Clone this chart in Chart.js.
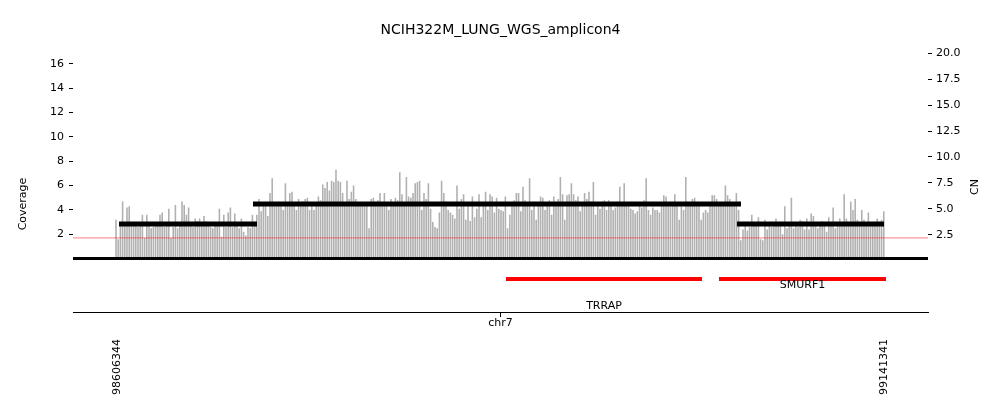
<!DOCTYPE html>
<html><head><meta charset="utf-8">
<script src="https://cdn.jsdelivr.net/npm/chart.js@4.4.1/dist/chart.umd.min.js"></script>
<style>html,body{margin:0;padding:0;background:#fff}canvas{display:block}</style>
</head><body>
<canvas id="c" width="1000" height="416"></canvas>
<script>
// ---------- data ----------
const chartTitle = 'NCIH322M_LUNG_WGS_amplicon4';
const chromName = 'chr7';
const xRange = [98575654, 99172031];
const xTickValues = [98606344, 99141341];
const coverageTicks = [2, 4, 6, 8, 10, 12, 14, 16];
const cnTicks = [2.5, 5, 7.5, 10, 12.5, 15, 17.5, 20];
const coverageRange = [0, 17.56];
const cnRange = [0.23, 20.77];
const covBinStart = 98605647;
const covBinSize = 1534.5;
const coverage = [
  3.2,1.6,3.0,4.7,2.8,4.2,4.3,3.0,2.7,2.9,
  2.6,2.8,3.6,1.7,3.6,2.7,2.5,2.6,2.9,2.7,
  3.6,3.8,2.6,3.0,4.1,1.7,2.6,4.4,2.5,2.7,
  4.7,4.4,3.6,4.2,2.7,2.6,3.3,3.1,3.3,2.9,
  3.5,3.1,2.8,2.6,2.5,2.9,2.7,4.1,1.8,3.6,
  2.6,3.8,4.2,2.6,3.7,2.7,2.5,
  3.3,2.2,1.9,2.6,2.5,3.6,2.9,3.6,4.9,3.9,
  4.6,4.3,3.5,5.4,6.6,4.3,4.5,4.7,4.3,4.0,
  6.2,4.5,5.4,5.5,4.5,4.0,4.9,4.5,4.7,4.9,
  5.0,4.0,4.5,4.0,4.6,5.1,4.8,6.1,5.8,6.3,
  5.6,6.4,6.3,7.3,6.4,6.3,5.4,4.6,6.4,4.9,
  5.5,6.0,4.9,4.6,4.3,4.5,4.4,4.6,2.5,
  4.9,5.0,4.7,4.8,5.4,4.4,5.4,4.4,4.0,4.9,
  4.6,5.0,4.8,7.1,5.3,4.6,6.7,5.1,5.0,5.4,
  6.2,6.3,6.4,4.0,5.4,4.9,6.2,4.1,3.0,2.6,
  2.5,3.8,6.4,5.4,4.7,4.0,3.8,3.6,3.3,6.0,
  4.1,4.9,5.3,3.2,4.5,3.1,5.1,3.4,4.1,5.3,
  3.4,4.5,5.5,4.0,5.3,5.1,3.8,5.0,4.1,
  4.0,3.9,5.1,2.5,3.6,4.7,4.8,5.4,5.4,3.9,
  5.9,4.8,4.5,6.6,4.0,4.7,3.2,4.5,5.1,5.0,
  4.0,4.4,4.8,3.6,5.1,4.3,4.9,6.7,5.3,3.2,
  5.2,5.3,6.2,5.3,4.8,5.1,3.9,4.5,5.4,4.9,
  5.5,4.7,6.3,3.6,4.5,4.1,4.7,4.8,4.0,4.8,
  4.4,4.0,4.2,4.7,5.9,4.4,6.2,4.4,4.4,
  4.1,4.0,3.7,3.9,4.6,4.2,4.8,6.6,4.0,3.6,
  4.2,4.0,4.0,3.8,4.6,5.2,5.1,4.5,4.3,4.6,
  5.3,4.4,3.2,4.3,4.0,6.7,4.7,4.6,4.9,5.0,
  4.5,4.4,3.2,3.8,4.0,3.8,4.5,5.2,5.2,4.9,
  4.6,4.6,4.6,6.0,5.2,4.9,4.6,4.3,5.4,4.0,
  1.5,2.4,2.7,2.3,2.6,3.6,2.7,2.8,3.4,
  1.6,1.5,3.2,2.4,2.7,2.6,2.7,3.3,2.7,2.8,
  2.0,4.3,2.5,2.9,5.0,2.5,2.7,2.6,3.2,3.1,
  2.4,3.3,2.4,3.7,3.5,2.7,2.5,2.9,3.1,2.9,
  2.2,3.4,2.7,4.2,2.5,2.9,3.3,2.7,5.3,3.3,
  2.7,4.7,4.0,4.9,3.2,2.7,4.0,3.2,2.8,3.8,
  2.7,2.7,3.0,3.3,2.7,3.2,3.9
];
const cnStarts = [98607739, 98701204, 99038782];
const cnEnds   = [98703994, 99041572, 99141341];
const cnValues = [3.56, 5.48, 3.56];
const baselineCoverage = 1.7;
const geneNames  = ['TRRAP', 'SMURF1'];
const geneStarts = [98877671, 99026239];
const geneEnds   = [99014381, 99142722];

// ---------- styling (not data) ----------
const FONT = "'DejaVu Sans'";
const geneLineLevel = 0.617;
const geneLabelLevels = [0.112, 0.505];

const datasets = [];
cnValues.forEach((v, i) => {
  datasets.push({
    type: 'line', yAxisID: 'y2', order: 0,
    data: [{x: cnStarts[i], y: v}, {x: cnEnds[i], y: v}],
    borderColor: '#000', borderWidth: 5, pointRadius: 0, borderCapStyle: 'butt', clip: false
  });
});
geneNames.forEach((g, i) => {
  datasets.push({
    type: 'line', yAxisID: 'yg', order: 0,
    data: [{x: geneStarts[i], y: geneLineLevel}, {x: geneEnds[i], y: geneLineLevel}],
    borderColor: '#ff0000', borderWidth: 4, pointRadius: 0, borderCapStyle: 'butt', clip: false
  });
});
datasets.push({
  type: 'line', yAxisID: 'y', order: 1,
  data: [{x: xRange[0], y: 0}, {x: xRange[1], y: 0}],
  borderColor: '#000', borderWidth: 3, pointRadius: 0, clip: false
});
datasets.push({
  type: 'line', yAxisID: 'y', order: 2,
  data: [{x: xRange[0], y: baselineCoverage}, {x: xRange[1], y: baselineCoverage}],
  borderColor: 'rgba(255,0,0,0.5)', borderWidth: 1, pointRadius: 0
});
datasets.push({
  type: 'bar', yAxisID: 'y', xAxisID: 'x', order: 3,
  data: coverage.map((v, i) => ({x: covBinStart + i * covBinSize, y: v})),
  backgroundColor: '#b0b0b0', borderWidth: 0,
  barPercentage: 0.72, categoryPercentage: 1.0
});

const textPlugin = {
  id: 'texts',
  afterDraw(chart) {
    const ctx = chart.ctx, xs = chart.scales.x, yg = chart.scales.yg;
    const ca = chart.chartArea;
    ctx.save();
    ctx.fillStyle = '#000';
    ctx.textAlign = 'center';
    ctx.textBaseline = 'middle';
    ctx.font = '14px ' + FONT;
    ctx.fillText(chartTitle, (ca.left + ca.right) / 2, 30);
    ctx.font = '11px ' + FONT;
    ctx.fillText(chromName, (ca.left + ca.right) / 2, 323);
    geneNames.forEach((g, i) => {
      const cx = xs.getPixelForValue((geneStarts[i] + geneEnds[i]) / 2);
      ctx.fillText(g, cx, yg.getPixelForValue(geneLabelLevels[i]));
    });
    ctx.save();
    ctx.translate(23, 204);
    ctx.rotate(-Math.PI / 2);
    ctx.fillText('Coverage', 0, 0);
    ctx.restore();
    ctx.save();
    ctx.translate(975, 187);
    ctx.rotate(-Math.PI / 2);
    ctx.fillText('CN', 0, 0);
    ctx.restore();
    ctx.restore();
  }
};

const tickFont = {family: FONT, size: 11};

new Chart(document.getElementById('c'), {
  type: 'bar',
  data: {datasets},
  plugins: [textPlugin],
  options: {
    responsive: false, animation: false, devicePixelRatio: 1,
    layout: {padding: {top: 45, left: 0, right: 0, bottom: 0}},
    plugins: {legend: {display: false}, tooltip: {enabled: false}, title: {display: false}},
    scales: {
      x: {
        type: 'linear', position: 'bottom', min: xRange[0], max: xRange[1], offset: false,
        afterBuildTicks: a => { a.ticks = xTickValues.map(v => ({value: v})); },
        afterFit: a => { a.height = 104; },
        grid: {display: true, drawOnChartArea: false, drawTicks: true, tickLength: 5, color: '#000', lineWidth: 1},
        border: {display: true, color: '#000', width: 1},
        ticks: {autoSkip: false, maxRotation: 90, minRotation: 90, padding: 22, color: '#000', font: tickFont,
                callback: v => String(v)}
      },
      y: {
        type: 'linear', position: 'left', stack: 'L', stackWeight: 4, weight: 1,
        min: coverageRange[0], max: coverageRange[1],
        afterBuildTicks: a => { a.ticks = coverageTicks.map(v => ({value: v})); },
        afterFit: a => { a.width = 73; },
        grid: {display: true, drawOnChartArea: false, drawTicks: true, tickLength: 4, color: '#000'},
        border: {display: false},
        ticks: {padding: 5, color: '#000', font: tickFont, callback: v => String(v)}
      },
      yg: {
        type: 'linear', position: 'left', stack: 'L', stackWeight: 1, weight: 0,
        min: 0, max: 1, display: false
      },
      y2: {
        type: 'linear', position: 'right', stack: 'R', stackWeight: 4, weight: 0,
        min: cnRange[0], max: cnRange[1],
        afterBuildTicks: a => { a.ticks = cnTicks.map(v => ({value: v})); },
        afterFit: a => { a.width = 72; },
        grid: {display: true, drawOnChartArea: false, drawTicks: true, tickLength: 4, color: '#000'},
        border: {display: false},
        ticks: {padding: 4, color: '#000', font: tickFont, callback: v => v.toFixed(1)}
      },
      yg2: {
        type: 'linear', position: 'right', stack: 'R', stackWeight: 1, weight: 1,
        min: 0, max: 1, display: false
      }
    }
  }
});
</script>
</body></html>
